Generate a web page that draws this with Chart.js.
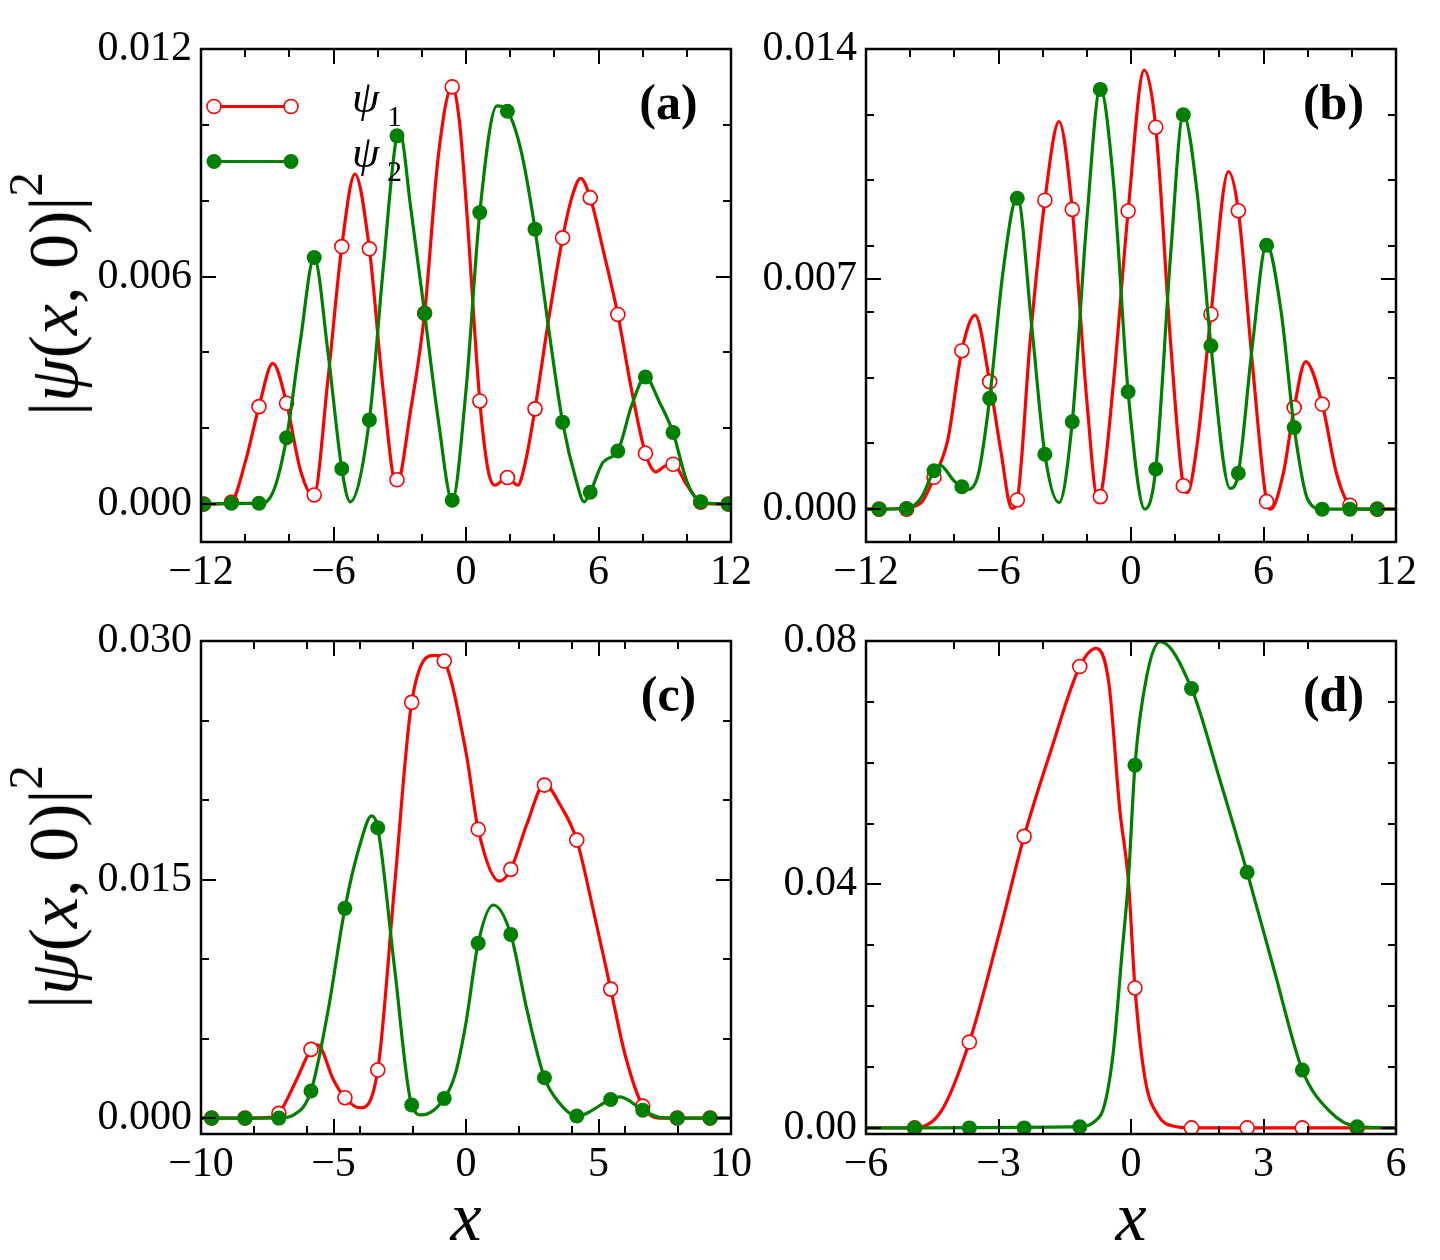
<!DOCTYPE html>
<html>
<head>
<meta charset="utf-8">
<title>|ψ(x,0)|²</title>
<script src="https://cdn.jsdelivr.net/npm/chart.js@4.4.0/dist/chart.umd.min.js"></script>
<style>
  body { margin: 0; background: #fff; }
  #fig { position: relative; width: 1440px; height: 1260px; overflow: hidden; font-family: "Liberation Serif", serif; color: #000; }
  canvas { position: absolute; }
  .ylab, .xlab { position: absolute; white-space: nowrap; line-height: 1; }
  .ylab { font-size: 70px; transform: translate(-50%, -50%) rotate(-90deg); }
  .xlab { font-size: 70px; font-style: italic; transform: translate(-50%, -50%); }
  .ylab sup { font-size: 0.7em; vertical-align: 0.72em; line-height: 0; }
</style>
</head>
<body>
<div id="fig">
  <canvas id="pa" width="760" height="630" style="left:0;top:0"></canvas>
  <canvas id="pb" width="740" height="630" style="left:700px;top:0"></canvas>
  <canvas id="pc" width="760" height="660" style="left:0;top:600px"></canvas>
  <canvas id="pd" width="740" height="660" style="left:700px;top:600px"></canvas>
  <div class="ylab" style="left:54px;top:294px">|<i>ψ</i>(<i>x</i>, 0)|<sup>2</sup></div>
  <div class="ylab" style="left:54px;top:887px">|<i>ψ</i>(<i>x</i>, 0)|<sup>2</sup></div>
  <div class="xlab" style="left:466px;top:1217px">x</div>
  <div class="xlab" style="left:1131px;top:1217px">x</div>
</div>
<script>
// panel (a)
const aMarkX = [-11.875, -10.625, -9.375, -8.125, -6.875, -5.625, -4.375, -3.125, -1.875, -0.625, 0.625, 1.875, 3.125, 4.375, 5.625, 6.875, 8.125, 9.375, 10.625, 11.875];
const aMark1 = [0, 0.00005, 0.00257, 0.00266, 0.00024, 0.00679, 0.00673, 0.00064, 0.00503, 0.0110, 0.00272, 0.00070, 0.00251, 0.00702, 0.00808, 0.00500, 0.00134, 0.00105, 0.00005, 0];
const aMark2 = [0, 0.00002, 0.00002, 0.00175, 0.00650, 0.00093, 0.00222, 0.00971, 0.00503, 0.00010, 0.00769, 0.01036, 0.00725, 0.00216, 0.00031, 0.00140, 0.00335, 0.00189, 0.00006, 0];
const aLineX1 = [-12, -11.875, -11, -10.625, -10, -9.375, -8.75, -8.125, -7.5, -6.9, -6.25, -5.625, -5.03, -4.375, -3.75, -3.15, -2.5, -1.875, -1.25, -0.625, -0.3, 0, 0.625, 1.0, 1.3, 1.875, 2.35, 2.65, 3.125, 3.75, 4.375, 4.8, 5.19, 5.625, 6.25, 6.875, 7.5, 8.125, 8.6, 9.0, 9.375, 10.0, 10.625, 11, 12];
const aLineY1 = [0, 0, 0.00001, 0.00005, 0.0011, 0.00257, 0.00371, 0.00266, 0.0009, 0.0002, 0.0033, 0.00679, 0.0087, 0.00673, 0.0030, 0.0005, 0.0025, 0.00503, 0.0092, 0.0110, 0.0101, 0.0080, 0.00272, 0.0009, 0.0005, 0.0007, 0.0005, 0.0010, 0.00251, 0.0049, 0.00702, 0.0081, 0.00859, 0.00808, 0.0066, 0.0050, 0.0030, 0.00134, 0.00085, 0.0010, 0.00105, 0.0005, 0.00005, 0.00001, 0];
const aLineX2 = [-12, -11.875, -10.625, -9.375, -8.75, -8.125, -7.5, -6.875, -6.25, -5.625, -5.25, -4.375, -3.75, -3.125, -3.0, -2.5, -1.875, -1.25, -0.625, 0, 0.625, 1.4, 1.875, 2.5, 3.125, 3.75, 4.375, 5.0, 5.35, 5.625, 6.2, 6.875, 7.5, 8.125, 8.75, 9.375, 10.0, 10.625, 11.875, 12];
const aLineY2 = [0, 0, 0.00002, 0.00002, 0.0003, 0.00175, 0.0043, 0.0065, 0.0040, 0.00093, 0.00006, 0.00222, 0.0062, 0.00971, 0.0098, 0.0078, 0.00503, 0.0022, 0.0001, 0.0030, 0.00769, 0.0105, 0.01036, 0.0093, 0.00725, 0.0046, 0.00216, 0.0006, 0.00006, 0.00031, 0.0011, 0.0014, 0.0026, 0.00335, 0.0027, 0.00189, 0.0006, 0.00006, 0, 0];

// panel (b)
const bMarkX = [-11.41, -10.16, -8.92, -7.66, -6.4, -5.15, -3.9, -2.66, -1.39, -0.13, 1.12, 2.37, 3.62, 4.86, 6.14, 7.39, 8.66, 9.91, 11.15];
const bMark1 = [0, 0, 0.00097, 0.00482, 0.00388, 0.00028, 0.0094, 0.00912, 0.00038, 0.00907, 0.01162, 0.00071, 0.00593, 0.00908, 0.00023, 0.00309, 0.00319, 0.00012, 0];
const bMark2 = [0, 0.00002, 0.00117, 0.00068, 0.00337, 0.00946, 0.00167, 0.00266, 0.01277, 0.00357, 0.00122, 0.0120, 0.00497, 0.00109, 0.00803, 0.00248, 0, 0, 0];
const bLineX1 = [-12, -11.41, -10.5, -10.16, -9.5, -8.92, -8.3, -7.66, -7.06, -6.4, -5.9, -5.4, -5.15, -4.57, -3.9, -3.26, -2.66, -2.0, -1.5, -1.39, -0.8, -0.13, 0.6, 1.12, 1.8, 2.37, 2.55, 3.0, 3.62, 4.41, 4.86, 5.5, 6.14, 6.33, 6.9, 7.39, 7.91, 8.66, 9.3, 9.91, 10.5, 12];
const bLineY1 = [0, 0, 0.00002, 0.00005, 0.0002, 0.00097, 0.0021, 0.00482, 0.0059, 0.00388, 0.0018, 0.00002, 0.00028, 0.0051, 0.0094, 0.01179, 0.00912, 0.0033, 0.0003, 0.00038, 0.0038, 0.00907, 0.01336, 0.01162, 0.0050, 0.00071, 0.0005, 0.0020, 0.00593, 0.01027, 0.00908, 0.0044, 0.00023, 0, 0.0011, 0.00309, 0.00449, 0.00319, 0.0011, 0.00012, 0, 0];
const bLineX2 = [-12, -11.41, -10.16, -9.5, -8.92, -8.66, -8.0, -7.66, -7.35, -6.9, -6.4, -5.8, -5.15, -4.5, -3.9, -3.26, -2.66, -2.0, -1.39, -0.8, -0.13, 0.63, 1.12, 1.8, 2.37, 3.0, 3.62, 4.49, 4.86, 5.5, 6.14, 6.8, 7.39, 8.0, 8.66, 12];
const bLineY2 = [0, 0, 0.00002, 0.00035, 0.00117, 0.00134, 0.00085, 0.00068, 0.0006, 0.0011, 0.00337, 0.0072, 0.0095, 0.0056, 0.00167, 0.0002, 0.00266, 0.0088, 0.0128, 0.0100, 0.00357, 0, 0.00122, 0.0078, 0.0120, 0.0096, 0.00497, 0.00063, 0.00109, 0.0050, 0.00805, 0.0060, 0.00248, 0.0003, 0, 0];

// panel (c)
const cMarkX = [-9.6, -8.34, -7.06, -5.85, -4.57, -3.33, -2.05, -0.82, 0.46, 1.69, 2.96, 4.18, 5.46, 6.67, 7.97, 9.21];
const cMark1 = [0, 0, 0.0003, 0.00432, 0.00128, 0.00302, 0.02614, 0.02874, 0.01816, 0.01564, 0.02094, 0.01748, 0.00811, 0.00075, 0, 0];
const cMark2 = [0, 0, 0, 0.0017, 0.01319, 0.01826, 0.00082, 0.00124, 0.0110, 0.01155, 0.00254, 0.00013, 0.00117, 0.0005, 0, 0];
const cLineX1 = [-10, -8.34, -7.4, -7.06, -6.4, -5.85, -5.6, -5.0, -4.57, -4.0, -3.33, -2.7, -2.05, -1.17, -0.82, 0, 0.46, 1.26, 1.69, 2.3, 2.96, 3.55, 4.18, 4.8, 5.46, 6.0, 6.67, 7.3, 10];
const cLineY1 = [0, 0, 0.00005, 0.0003, 0.0024, 0.00432, 0.0046, 0.0024, 0.00128, 0.00065, 0.00302, 0.0145, 0.02614, 0.0291, 0.02874, 0.0230, 0.01816, 0.0149, 0.01564, 0.0185, 0.0210, 0.0197, 0.01748, 0.0131, 0.00811, 0.0040, 0.00075, 0, 0];
const cLineX2 = [-10, -7.06, -6.5, -5.85, -5.2, -4.57, -4.0, -3.56, -3.33, -2.7, -2.05, -1.67, -0.82, -0.4, 0, 0.46, 1.03, 1.69, 2.3, 2.96, 3.5, 4.18, 5.46, 5.81, 6.67, 7.3, 7.97, 10];
const cLineY2 = [0, 0, 0.0002, 0.0017, 0.0068, 0.01319, 0.0172, 0.0190, 0.01826, 0.0095, 0.00082, 0.0002, 0.00124, 0.0028, 0.0060, 0.0110, 0.0134, 0.01155, 0.0068, 0.00254, 0.0010, 0.00013, 0.00117, 0.00134, 0.0005, 0.00005, 0, 0];

// panel (d)
const dMarkX = [-4.9, -3.66, -2.42, -1.16, 0.09, 1.37, 2.63, 3.88, 5.12];
const dMark1 = [0, 0.0141, 0.0479, 0.0758, 0.0230, 0, 0, 0, 0];
const dMark2 = [0, 0, 0, 0.0002, 0.0596, 0.0722, 0.0420, 0.0095, 0.0002];
const dLineX1 = [-6, -4.9, -4.3, -3.66, -3.0, -2.42, -1.8, -1.16, -0.79, -0.5, -0.25, -0.06, 0.09, 0.32, 0.62, 0.95, 1.37, 6];
const dLineY1 = [0, 0, 0.0027, 0.0141, 0.0315, 0.0479, 0.0623, 0.0758, 0.0788, 0.073, 0.052, 0.0407, 0.0230, 0.0080, 0.0020, 0.0003, 0, 0];
const dLineX2 = [-6, -1.16, -0.85, -0.6, -0.4, -0.2, -0.06, 0.09, 0.35, 0.66, 1.37, 2.0, 2.63, 3.25, 3.88, 4.5, 5.12, 6];
const dLineY2 = [0, 0.0002, 0.0009, 0.0038, 0.0125, 0.029, 0.0407, 0.0596, 0.074, 0.0799, 0.0722, 0.0575, 0.0420, 0.0257, 0.0095, 0.0027, 0.0002, 0];

// tick positions
const xMajorAB = [-12, -6, 0, 6, 12], xMinorAB = [-10, -8, -4, -2, 2, 4, 8, 10];
const xMajorC = [-10, -5, 0, 5, 10], xMinorC = [-8, -6, -4, -2, 2, 4, 6, 8];
const xMajorD = [-6, -3, 0, 3, 6], xMinorD = [-4, -2, 2, 4];
const yMajorA = [0, 0.006, 0.012], yMinorA = [0.002, 0.004, 0.008, 0.010];
const yMajorB = [0, 0.007, 0.014], yMinorB = [0.002, 0.004, 0.006, 0.008, 0.010, 0.012];
const yMajorC = [0, 0.015, 0.030], yMinorC = [0.005, 0.010, 0.020, 0.025];
const yMajorD = [0, 0.04, 0.08], yMinorD = [0.01, 0.02, 0.03, 0.05, 0.06, 0.07];

const RED = '#ff0000', GREEN = '#008000';
const FONT = '"Liberation Serif", serif';
Chart.defaults.font.family = FONT;

let series = (xs, ys) => xs.map((x, i) => ({ x, y: ys[i] }));

let lineSet = (xs, ys, color, order) => ({
    data: series(xs, ys),
    borderColor: color,
    borderWidth: 3.2,
    pointRadius: 0,
    cubicInterpolationMode: 'monotone',
    fill: false,
    clip: 0,
    order
});

let markSet = (xs, ys, color, filled, order) => ({
    data: series(xs, ys),
    showLine: false,
    pointRadius: filled ? 7.5 : 7,
    pointBorderWidth: filled ? 0 : 1.6,
    pointBackgroundColor: filled ? color : '#ffffff',
    pointBorderColor: color,
    clip: 0,
    order
});

let fmtX = (v) => v < 0 ? '\u2212' + Math.abs(v) : String(v);

let axis = (min, max, major, fmt, size, pad) => ({
    type: 'linear',
    min,
    max,
    grid: { display: false, drawTicks: false, tickLength: 0 },
    border: { display: false },
    ticks: {
        color: '#000',
        font: { size: 42, family: FONT },
        padding: pad,
        maxRotation: 0,
        autoSkip: false,
        callback: fmt
    },
    afterBuildTicks: (s) => { s.ticks = major.map(value => ({ value })); },
    afterFit: (s) => {
        if (s.isHorizontal()) s.height = size;
        else s.width = size;
    }
});

// frame, inward ticks on all sides, panel letter and the legend of (a)
const frame = {
    id: 'frame',
    afterDatasetsDraw(chart, args, o) {
        const { ctx, chartArea: a } = chart;
        const xs = chart.scales.x, ys = chart.scales.y;
        ctx.save();
        ctx.strokeStyle = '#000';
        ctx.lineWidth = 2;
        ctx.beginPath();
        let xTicks = (vals, len) => vals.forEach(v => {
            const px = Math.round(xs.getPixelForValue(v));
            ctx.moveTo(px, a.bottom); ctx.lineTo(px, a.bottom - len);
            ctx.moveTo(px, a.top); ctx.lineTo(px, a.top + len);
        });
        let yTicks = (vals, len) => vals.forEach(v => {
            const py = Math.round(ys.getPixelForValue(v));
            ctx.moveTo(a.left, py); ctx.lineTo(a.left + len, py);
            ctx.moveTo(a.right, py); ctx.lineTo(a.right - len, py);
        });
        xTicks(o.xMajor, 15); xTicks(o.xMinor, 8);
        yTicks(o.yMajor, 15); yTicks(o.yMinor, 8);
        ctx.stroke();
        ctx.lineWidth = 2.5;
        ctx.strokeRect(a.left, a.top, a.right - a.left, a.bottom - a.top);

        ctx.fillStyle = '#000';
        ctx.font = 'bold 50px ' + FONT;
        ctx.textAlign = 'center';
        ctx.textBaseline = 'middle';
        ctx.fillText(o.label, a.right - 62.5, a.top + 57);

        if (o.legend) {
            [[RED, false, '1'], [GREEN, true, '2']].forEach(([color, filled, sub], i) => {
                const y = a.top + 57.5 + i * 55;
                const x0 = a.left + 13, x1 = a.left + 90;
                ctx.strokeStyle = color;
                ctx.lineWidth = 3.2;
                ctx.beginPath(); ctx.moveTo(x0, y); ctx.lineTo(x1, y); ctx.stroke();
                [x0, x1].forEach(x => {
                    ctx.beginPath();
                    ctx.arc(x, y, filled ? 7.5 : 7, 0, Math.PI * 2);
                    ctx.fillStyle = filled ? color : '#ffffff';
                    ctx.fill();
                    if (!filled) { ctx.lineWidth = 1.6; ctx.stroke(); }
                });
                ctx.fillStyle = '#000';
                ctx.textAlign = 'left';
                ctx.textBaseline = 'alphabetic';
                ctx.font = 'italic 44px ' + FONT;
                ctx.fillText('\u03c8', a.left + 151, y + 5);
                ctx.font = '30px ' + FONT;
                ctx.fillText(sub, a.left + 186, y + 19);
            });
        }
        ctx.restore();
    }
};

let makePanel = (id, p) => {
    new Chart(document.getElementById(id), {
        type: 'line',
        data: {
            datasets: [
                markSet(p.mx, p.m2, GREEN, true, 0),
                lineSet(p.x2, p.y2, GREEN, 1),
                markSet(p.mx, p.m1, RED, false, 2),
                lineSet(p.x1, p.y1, RED, 3)
            ]
        },
        options: {
            responsive: false,
            animation: false,
            events: [],
            layout: { padding: p.pad },
            plugins: {
                legend: { display: false },
                tooltip: { enabled: false },
                frame: {
                    xMajor: p.xMajor, xMinor: p.xMinor,
                    yMajor: p.yMajor, yMinor: p.yMinor,
                    label: p.label, legend: p.legend
                }
            },
            scales: {
                x: axis(p.xRange[0], p.xRange[1], p.xMajor, fmtX, p.xH, 6),
                y: axis(p.yRange[0], p.yRange[1], p.yMajor, p.yFmt, p.yW, 9)
            }
        },
        plugins: [frame]
    });
};

makePanel('pa', {
    mx: aMarkX, m1: aMark1, m2: aMark2,
    x1: aLineX1, y1: aLineY1, x2: aLineX2, y2: aLineY2,
    xRange: [-12, 12], yRange: [-0.001, 0.012],
    xMajor: xMajorAB, xMinor: xMinorAB, yMajor: yMajorA, yMinor: yMinorA,
    yFmt: v => v.toFixed(3),
    pad: { left: 0, top: 49, right: 29, bottom: 0 }, yW: 201, xH: 88,
    label: '(a)', legend: true
});

makePanel('pb', {
    mx: bMarkX, m1: bMark1, m2: bMark2,
    x1: bLineX1, y1: bLineY1, x2: bLineX2, y2: bLineY2,
    xRange: [-12, 12], yRange: [-0.001, 0.014],
    xMajor: xMajorAB, xMinor: xMinorAB, yMajor: yMajorB, yMinor: yMinorB,
    yFmt: v => v.toFixed(3),
    pad: { left: 0, top: 49, right: 44, bottom: 0 }, yW: 166, xH: 88,
    label: '(b)', legend: false
});

makePanel('pc', {
    mx: cMarkX, m1: cMark1, m2: cMark2,
    x1: cLineX1, y1: cLineY1, x2: cLineX2, y2: cLineY2,
    xRange: [-10, 10], yRange: [-0.001, 0.030],
    xMajor: xMajorC, xMinor: xMinorC, yMajor: yMajorC, yMinor: yMinorC,
    yFmt: v => v.toFixed(3),
    pad: { left: 0, top: 41, right: 29, bottom: 0 }, yW: 201, xH: 126,
    label: '(c)', legend: false
});

makePanel('pd', {
    mx: dMarkX, m1: dMark1, m2: dMark2,
    x1: dLineX1, y1: dLineY1, x2: dLineX2, y2: dLineY2,
    xRange: [-6, 6], yRange: [-0.001, 0.08],
    xMajor: xMajorD, xMinor: xMinorD, yMajor: yMajorD, yMinor: yMinorD,
    yFmt: v => v.toFixed(2),
    pad: { left: 0, top: 41, right: 44, bottom: 0 }, yW: 166, xH: 126,
    label: '(d)', legend: false
});
</script>
</body>
</html>
